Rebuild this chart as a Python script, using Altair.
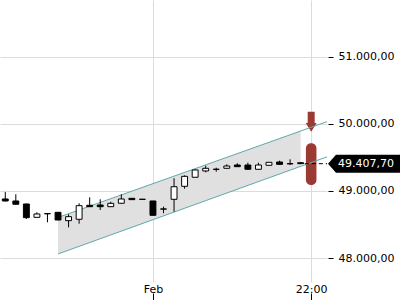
import altair as alt
import pandas as pd

# ---- data ----
idx = list(range(29))
opens = [48881, 48851, 48806, 48607, 48662, 48682, 48557, 48578, 48787, 48791,
         48766, 48817, 48891, 48877, 48851, 48732, 48876, 49070, 49205, 49299,
         49325, 49339, 49388, 49388, 49324, 49384, 49433, 49408, 49422]
highs = [48985, 48951, 48810, 48682, 48667, 48687, 48652, 48817, 48906, 48876,
         48840, 48951, 48893, 48878, 48852, 48766, 49190, 49234, 49324, 49378,
         49348, 49399, 49414, 49423, 49422, 49430, 49452, 49473, 49425]
lows = [48845, 48800, 48582, 48605, 48533, 48565, 48458, 48512, 48764, 48716,
        48764, 48815, 48869, 48874, 48636, 48667, 48691, 49034, 49203, 49279,
        49288, 49338, 49362, 49322, 49322, 49382, 49397, 49388, 49400]
closes = [48851, 48802, 48602, 48657, 48660, 48567, 48617, 48781, 48766, 48766,
          48816, 48881, 48871, 48875, 48637, 48730, 49064, 49219, 49314, 49339,
          49323, 49373, 49363, 49324, 49388, 49428, 49398, 49406, 49407.7]

x_tick_values = [14, 29]
x_tick_labels = ["Feb", "22:00"]
y_tick_values = [48000, 49000, 50000, 51000]

# channel
area_x = [5, 28]
area_upper = [48605, 49895]
area_lower = [48060, 49368]
line_x = [5, 30.5]
line_upper = [48605, 50035]
line_lower = [48060, 49510]

# marker / last price
marker_i = 29
arrow_value = 50034
pill_top = 49712
pill_bottom = 49090
last_price = 49407.7
last_label = "49.407,70"
dash_x = [28.4, 30.5]

FONT = "DejaVu Sans"
RED = "#9b3a33"
TEAL = "#5fa7ad"
GRID = "#dcdcdc"

xscale = alt.Scale(domain=[-0.5, 30.5], nice=False, zero=False)
yscale = alt.Scale(domain=[47641.8, 51850.7], nice=False, zero=False)

label_expr_x = " : ".join(
    f"datum.value == {v} ? '{l}'" for v, l in zip(x_tick_values[:-1], x_tick_labels[:-1])
) + f" : '{x_tick_labels[-1]}'"

xaxis = alt.Axis(values=x_tick_values, labelExpr=label_expr_x, title=None, orient="bottom",
                 offset=11, tickSize=7, tickColor="black", domain=False, grid=True,
                 gridColor=GRID, labelFont=FONT, labelFontSize=11, labelColor="black",
                 labelBaseline="alphabetic", labelPadding=-8, labelAngle=0)
yaxis = alt.Axis(values=y_tick_values, title=None, orient="right", offset=1, tickSize=5,
                 tickColor="black", labelPadding=5, domain=False, grid=True, gridColor=GRID,
                 labelFont=FONT, labelFontSize=11, labelColor="black",
                 labelExpr="replace(replace(replace(format(datum.value, ',.2f'), ',', '#'), '.', ','), '#', '.')")


def X(f):
    return alt.X(f, type="quantitative", scale=xscale, axis=xaxis)


def Y(f):
    return alt.Y(f, type="quantitative", scale=yscale, axis=yaxis)


candles = pd.DataFrame({"i": idx, "open": opens, "high": highs, "low": lows, "close": closes})
candles["x1"] = candles["i"] - 0.28
candles["x2"] = candles["i"] + 0.28

area_df = pd.DataFrame({"i": area_x, "upper": area_upper, "lower": area_lower})
lines_df = pd.DataFrame({
    "i": line_x + line_x,
    "v": line_upper + line_lower,
    "s": ["u", "u", "l", "l"],
})
pill_df = pd.DataFrame({"x1": [marker_i - 0.5], "x2": [marker_i + 0.5],
                        "top": [pill_top], "bottom": [pill_bottom]})
arrow_df = pd.DataFrame({"i": [marker_i], "v": [arrow_value]})
dash_df = pd.DataFrame({"i": dash_x, "v": [last_price, last_price]})
price_df = pd.DataFrame({"price": [last_price], "label": [last_label]})

area = alt.Chart(area_df).mark_area(color="#e0e0e0", opacity=1).encode(
    x=X("i"), y=Y("lower"), y2="upper")

pill = alt.Chart(pill_df).mark_rect(color=RED, cornerRadius=5).encode(
    x=X("x1"), x2="x2", y=Y("top"), y2="bottom")

arrow_path = "M -0.35 -1 L 0.35 -1 L 0.35 0.13 L 0.55 0.13 L 0 1 L -0.55 0.13 L -0.35 0.13 Z"
arrow = alt.Chart(arrow_df).mark_point(shape=arrow_path, size=400, filled=True,
                                       color=RED, opacity=1, strokeWidth=0).encode(
    x=X("i"), y=Y("v"))

lines = alt.Chart(lines_df).mark_line(color=TEAL, strokeWidth=1).encode(
    x=X("i"), y=Y("v"), detail="s")

dash = alt.Chart(dash_df).mark_line(color="black", strokeWidth=1, strokeDash=[4, 3]).encode(
    x=X("i"), y=Y("v"))

wicks = alt.Chart(candles).mark_rule(color="black", strokeWidth=1).encode(
    x=X("i"), y=Y("low"), y2="high")

bodies = alt.Chart(candles).mark_rect(stroke="black", strokeWidth=1).encode(
    x=X("x1"), x2="x2", y=Y("open"), y2="close",
    fill=alt.condition("datum.close < datum.open", alt.value("black"), alt.value("white")))

box_path = "M -1 0 L -0.778 -0.25 L 1 -0.25 L 1 0.25 L -0.778 0.25 Z"
price_box = alt.Chart(price_df).mark_point(shape=box_path, size=5184, filled=True,
                                           color="black", opacity=1, strokeWidth=0).encode(
    x=alt.value(364), y=Y("price"))

price_text = alt.Chart(price_df).mark_text(align="left", baseline="middle", color="white",
                                           font=FONT, fontSize=11).encode(
    x=alt.value(338), y=Y("price"), text="label:N")

chart = alt.layer(area, pill, arrow, lines, dash, wicks, bodies, price_box, price_text).properties(
    width=327, height=282,
    autosize=alt.AutoSizeParams(type="none"),
    padding={"left": 0, "top": 0, "right": 73, "bottom": 18},
    background="white",
).configure_view(strokeWidth=0)

chart.save("out.html", embed_options={"renderer": "svg", "actions": False})
